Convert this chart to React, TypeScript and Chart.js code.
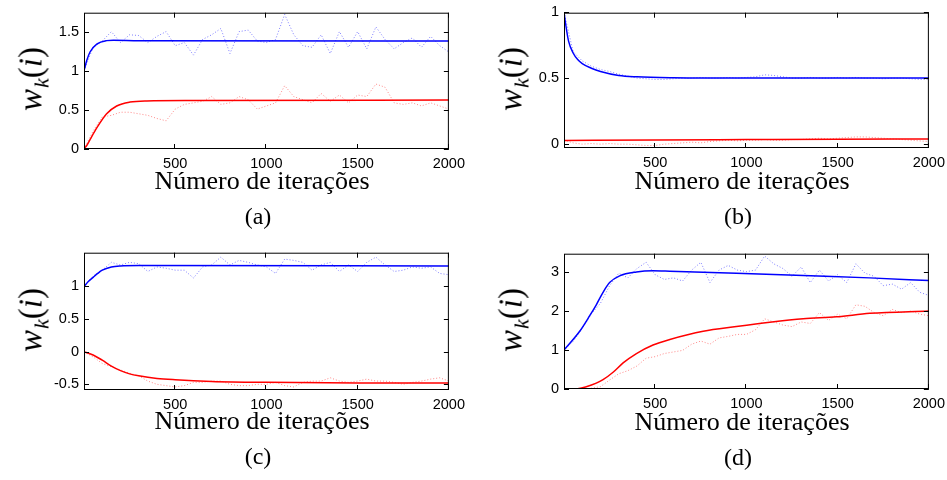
import React, { useEffect, useRef } from "react";
import { Chart, registerables } from "chart.js";
Chart.register(...registerables);

// ---------- shared data ----------
const ITER = [
  0, 50, 100, 150, 200, 250, 300, 350, 400, 450, 500, 550, 600, 650, 700, 750, 800, 850, 900, 950, 1000,
  1050, 1100, 1150, 1200, 1250, 1300, 1350, 1400, 1450, 1500, 1550, 1600, 1650, 1700, 1750, 1800, 1850,
  1900, 1950, 2000,
];
const X_TICKS = [500, 1000, 1500, 2000];
const X_TITLE = "Número de iterações";

// ---------- (a) ----------
const A_BLUE_THEORY_X = [0, 15, 33, 70, 124, 161, 300, 2000];
const A_BLUE_THEORY = [1.0, 1.13, 1.24, 1.34, 1.385, 1.39, 1.385, 1.38];
const A_RED_THEORY_X = [0, 15, 33, 70, 124, 179, 252, 344, 600, 2000];
const A_RED_THEORY = [0, 0.045, 0.12, 0.27, 0.45, 0.55, 0.6, 0.615, 0.62, 0.625];
const A_BLUE_SIM = [
  1.0, 1.3, 1.38, 1.5, 1.36, 1.46, 1.45, 1.36, 1.44, 1.5, 1.32, 1.36, 1.2, 1.4, 1.46, 1.54, 1.22, 1.5, 1.52,
  1.38, 1.36, 1.4, 1.72, 1.46, 1.32, 1.3, 1.46, 1.22, 1.5, 1.3, 1.5, 1.28, 1.56, 1.4, 1.28, 1.36, 1.42, 1.3,
  1.44, 1.32, 1.24,
];
const A_RED_SIM = [
  0, 0.23, 0.41, 0.43, 0.47, 0.47, 0.45, 0.43, 0.39, 0.36, 0.51, 0.57, 0.59, 0.61, 0.67, 0.57, 0.59, 0.67,
  0.63, 0.51, 0.55, 0.59, 0.81, 0.67, 0.63, 0.59, 0.71, 0.61, 0.69, 0.59, 0.69, 0.67, 0.83, 0.79, 0.59, 0.57,
  0.59, 0.55, 0.59, 0.55, 0.51,
];
const A_Y_TICKS = [0, 0.5, 1, 1.5];

// ---------- (b) ----------
const B_BLUE_THEORY_X = [0, 10, 25, 50, 75, 100, 150, 200, 300, 400, 600, 1000, 2000];
const B_BLUE_THEORY = [1.0, 0.9, 0.78, 0.69, 0.64, 0.61, 0.575, 0.55, 0.52, 0.51, 0.503, 0.5, 0.5];
const B_RED_THEORY_X = [0, 500, 1000, 1500, 2000];
const B_RED_THEORY = [0.028, 0.032, 0.035, 0.038, 0.04];
const B_BLUE_SIM = [
  1.0, 0.7, 0.63, 0.59, 0.565, 0.55, 0.53, 0.515, 0.5, 0.495, 0.49, 0.49, 0.495, 0.5, 0.5, 0.505, 0.5, 0.5,
  0.505, 0.5, 0.505, 0.51, 0.525, 0.52, 0.51, 0.5, 0.5, 0.505, 0.5, 0.5, 0.505, 0.5, 0.505, 0.5, 0.5, 0.495,
  0.5, 0.5, 0.495, 0.49, 0.49,
];
const B_RED_SIM = [
  0.03, 0.01, 0.0, 0.005, 0.0, 0.005, 0.0, 0.0, -0.005, -0.01, -0.01, 0.0, 0.005, 0.01, 0.015, 0.01, 0.02,
  0.025, 0.03, 0.025, 0.03, 0.03, 0.035, 0.03, 0.03, 0.035, 0.035, 0.04, 0.045, 0.04, 0.045, 0.05, 0.055,
  0.055, 0.05, 0.045, 0.04, 0.035, 0.03, 0.025, 0.02,
];
const B_Y_TICKS = [0, 0.5, 1];

// ---------- (c) ----------
const C_BLUE_THEORY_X = [0, 25, 50, 75, 100, 150, 200, 300, 2000];
const C_BLUE_THEORY = [1.0, 1.08, 1.14, 1.2, 1.25, 1.3, 1.315, 1.32, 1.315];
const C_RED_THEORY_X = [0, 50, 100, 150, 200, 250, 300, 400, 500, 700, 1000, 1500, 2000];
const C_RED_THEORY = [0, -0.05, -0.13, -0.22, -0.29, -0.34, -0.37, -0.41, -0.43, -0.455, -0.47, -0.48, -0.48];
const C_BLUE_SIM = [
  1.0, 1.16, 1.25, 1.37, 1.33, 1.37, 1.35, 1.23, 1.3, 1.28, 1.25, 1.25, 1.13, 1.3, 1.33, 1.45, 1.33, 1.4,
  1.37, 1.33, 1.3, 1.2, 1.42, 1.4, 1.37, 1.25, 1.33, 1.37, 1.23, 1.33, 1.23, 1.37, 1.45, 1.33, 1.23, 1.25,
  1.3, 1.28, 1.3, 1.2, 1.18,
];
const C_RED_SIM = [
  0, -0.08, -0.18, -0.23, -0.28, -0.33, -0.37, -0.45, -0.5, -0.52, -0.54, -0.52, -0.47, -0.47, -0.45, -0.45,
  -0.5, -0.52, -0.52, -0.5, -0.5, -0.47, -0.52, -0.54, -0.47, -0.45, -0.45, -0.4, -0.45, -0.47, -0.45, -0.42,
  -0.45, -0.45, -0.47, -0.5, -0.47, -0.45, -0.42, -0.4, -0.45,
];
const C_Y_TICKS = [-0.5, 0, 0.5, 1];

// ---------- (d) ----------
const D_BLUE_THEORY_X = [0, 86, 141, 177, 214, 250, 305, 397, 488, 580, 945, 1311, 1676, 2000];
const D_BLUE_THEORY = [1.0, 1.48, 1.88, 2.16, 2.48, 2.73, 2.9, 3.0, 3.03, 3.02, 2.97, 2.91, 2.85, 2.78];
const D_RED_THEORY_X = [0, 60, 122, 177, 214, 269, 324, 397, 488, 580, 763, 945, 1128, 1311, 1494, 1676, 2000];
const D_RED_THEORY = [0, 0.0, 0.06, 0.15, 0.24, 0.43, 0.67, 0.91, 1.13, 1.27, 1.48, 1.6, 1.71, 1.8, 1.85, 1.94, 2.0];
const D_BLUE_SIM = [
  1.0, 1.22, 1.55, 1.93, 2.2, 2.65, 2.97, 2.85, 3.09, 3.25, 2.93, 2.81, 2.85, 2.77, 3.05, 3.25, 2.73, 3.05,
  3.17, 3.05, 3.01, 3.05, 3.41, 3.21, 3.09, 2.89, 3.13, 2.73, 3.05, 2.77, 2.93, 2.73, 3.21, 2.97, 2.89, 2.65,
  2.69, 2.56, 2.73, 2.48, 2.4,
];
const D_RED_SIM = [
  0, 0, 0, 0.02, 0.06, 0.23, 0.39, 0.47, 0.59, 0.79, 0.83, 0.91, 0.95, 0.99, 1.15, 1.23, 1.15, 1.31, 1.35,
  1.4, 1.4, 1.52, 1.8, 1.72, 1.64, 1.6, 1.72, 1.68, 1.96, 1.76, 1.92, 1.8, 2.16, 2.12, 1.96, 1.88, 2.04, 1.96,
  2.0, 1.92, 1.88,
];
const D_Y_TICKS = [0, 1, 2, 3];

const pts = (xs: number[], ys: number[]) => xs.map((x, i) => ({ x, y: ys[i] }));

const BLUE = "rgb(0,0,255)";
const RED = "rgb(255,0,0)";

type PanelCfg = {
  left: number;
  top: number;
  h: number;
  yMin: number;
  yMax: number;
  yTicks: number[];
  caption: string;
  blueT: { x: number; y: number }[];
  redT: { x: number; y: number }[];
  blueS: { x: number; y: number }[];
  redS: { x: number; y: number }[];
};

const PANELS: PanelCfg[] = [
  {
    left: 84, top: 5, h: 144, yMin: 0, yMax: 1.742, yTicks: A_Y_TICKS, caption: "(a)",
    blueT: pts(A_BLUE_THEORY_X, A_BLUE_THEORY), redT: pts(A_RED_THEORY_X, A_RED_THEORY),
    blueS: pts(ITER, A_BLUE_SIM), redS: pts(ITER, A_RED_SIM),
  },
  {
    left: 564, top: 5, h: 143, yMin: -0.029, yMax: 0.995, yTicks: B_Y_TICKS, caption: "(b)",
    blueT: pts(B_BLUE_THEORY_X, B_BLUE_THEORY), redT: pts(B_RED_THEORY_X, B_RED_THEORY),
    blueS: pts(ITER, B_BLUE_SIM), redS: pts(ITER, B_RED_SIM),
  },
  {
    left: 84, top: 245, h: 145, yMin: -0.587, yMax: 1.518, yTicks: C_Y_TICKS, caption: "(c)",
    blueT: pts(C_BLUE_THEORY_X, C_BLUE_THEORY), redT: pts(C_RED_THEORY_X, C_RED_THEORY),
    blueS: pts(ITER, C_BLUE_SIM), redS: pts(ITER, C_RED_SIM),
  },
  {
    left: 564, top: 246, h: 143, yMin: 0, yMax: 3.47, yTicks: D_Y_TICKS, caption: "(d)",
    blueT: pts(D_BLUE_THEORY_X, D_BLUE_THEORY), redT: pts(D_RED_THEORY_X, D_RED_THEORY),
    blueS: pts(ITER, D_BLUE_SIM), redS: pts(ITER, D_RED_SIM),
  },
];

const PLOT_W = 365;
const PAD_L = 50;
const PAD_T = 6;
const PAD_R = 22;
const PAD_B = 26;

const boxPlugin = {
  id: "matlabBox",
  afterDatasetsDraw(chart: any) {
    const { ctx, chartArea: a, scales } = chart;
    ctx.save();
    ctx.strokeStyle = "#000";
    ctx.lineWidth = 1;
    ctx.strokeRect(a.left + 0.5, a.top + 0.5, a.right - a.left - 1, a.bottom - a.top - 1);
    const L = 5;
    ctx.beginPath();
    scales.x.ticks.forEach((t: any) => {
      const px = Math.round(scales.x.getPixelForValue(t.value)) - 0.5;
      ctx.moveTo(px, a.bottom);
      ctx.lineTo(px, a.bottom - L);
      ctx.moveTo(px, a.top);
      ctx.lineTo(px, a.top + L);
    });
    scales.y.ticks.forEach((t: any) => {
      const py = Math.round(scales.y.getPixelForValue(t.value)) + 0.5;
      ctx.moveTo(a.left, py);
      ctx.lineTo(a.left + L, py);
      ctx.moveTo(a.right, py);
      ctx.lineTo(a.right - L, py);
    });
    ctx.stroke();
    ctx.restore();
  },
};

function Panel({ cfg }: { cfg: PanelCfg }) {
  const ref = useRef<HTMLCanvasElement | null>(null);
  useEffect(() => {
    if (!ref.current) return;
    const tickFont = { family: "'Liberation Sans', Arial, sans-serif", size: 14.5 };
    const chart = new Chart(ref.current, {
      type: "line",
      data: {
        datasets: [
          { data: cfg.blueT, borderColor: BLUE, borderWidth: 1.5, pointRadius: 0, cubicInterpolationMode: "monotone" },
          { data: cfg.redT, borderColor: RED, borderWidth: 1.5, pointRadius: 0, cubicInterpolationMode: "monotone" },
          { data: cfg.blueS, borderColor: "rgba(40,40,255,0.6)", borderWidth: 1, borderDash: [1, 2], pointRadius: 0, tension: 0 },
          { data: cfg.redS, borderColor: "rgba(255,40,40,0.55)", borderWidth: 1, borderDash: [1, 2], pointRadius: 0, tension: 0 },
        ],
      } as any,
      options: {
        animation: false,
        responsive: false,
        events: [],
        layout: { padding: { left: 0, top: PAD_T, right: PAD_R, bottom: 0 } },
        plugins: { legend: { display: false }, tooltip: { enabled: false } },
        scales: {
          x: {
            type: "linear",
            min: 0,
            max: 2000,
            grid: { display: false, drawTicks: false },
            border: { display: false },
            afterBuildTicks: (s: any) => {
              s.ticks = X_TICKS.map((v) => ({ value: v }));
            },
            afterFit: (s: any) => {
              s.height = PAD_B;
            },
            ticks: { font: tickFont, color: "#000", padding: 6, maxRotation: 0, callback: (v: any) => String(v) },
          },
          y: {
            type: "linear",
            min: cfg.yMin,
            max: cfg.yMax,
            grid: { display: false, drawTicks: false },
            border: { display: false },
            afterBuildTicks: (s: any) => {
              s.ticks = cfg.yTicks.map((v) => ({ value: v }));
            },
            afterFit: (s: any) => {
              s.width = PAD_L;
            },
            ticks: { font: tickFont, color: "#000", padding: 5, callback: (v: any) => String(v) },
          },
        },
      } as any,
      plugins: [boxPlugin],
    });
    return () => chart.destroy();
  }, [cfg]);

  const W = PAD_L + PLOT_W + PAD_R;
  const H = PAD_T + cfg.h + PAD_B;
  const serif = "'Liberation Serif', 'Times New Roman', serif";
  return (
    <>
      <canvas
        ref={ref}
        width={W}
        height={H}
        style={{ position: "absolute", left: cfg.left - PAD_L, top: cfg.top - PAD_T, width: W, height: H }}
      />
      <div
        style={{
          position: "absolute",
          left: cfg.left - 48,
          top: cfg.top + cfg.h / 2 + 2,
          transform: "translate(-50%, -50%) rotate(-90deg)",
          fontFamily: serif,
          fontSize: 33,
          whiteSpace: "nowrap",
          lineHeight: "33px",
        }}
      >
        <i>w</i>
        <sub style={{ fontSize: 22, fontStyle: "italic", verticalAlign: "-7px", marginLeft: 1 }}>k</sub>(<i>i</i>)
      </div>
      <div
        style={{
          position: "absolute",
          left: cfg.left + 178,
          top: cfg.top + 164,
          transform: "translateX(-50%)",
          fontFamily: serif,
          fontSize: 26,
          lineHeight: "24px",
          whiteSpace: "nowrap",
        }}
      >
        {X_TITLE}
      </div>
      <div
        style={{
          position: "absolute",
          left: cfg.left + 174,
          top: cfg.top + 199,
          transform: "translateX(-50%)",
          fontFamily: serif,
          fontSize: 24,
          lineHeight: "24px",
          whiteSpace: "nowrap",
        }}
      >
        {cfg.caption}
      </div>
    </>
  );
}

export default function App() {
  return (
    <div style={{ position: "absolute", left: 0, top: 0, width: 947, height: 480, background: "#fff", overflow: "hidden" }}>
      {PANELS.map((p) => (
        <Panel key={p.caption} cfg={p} />
      ))}
    </div>
  );
}
